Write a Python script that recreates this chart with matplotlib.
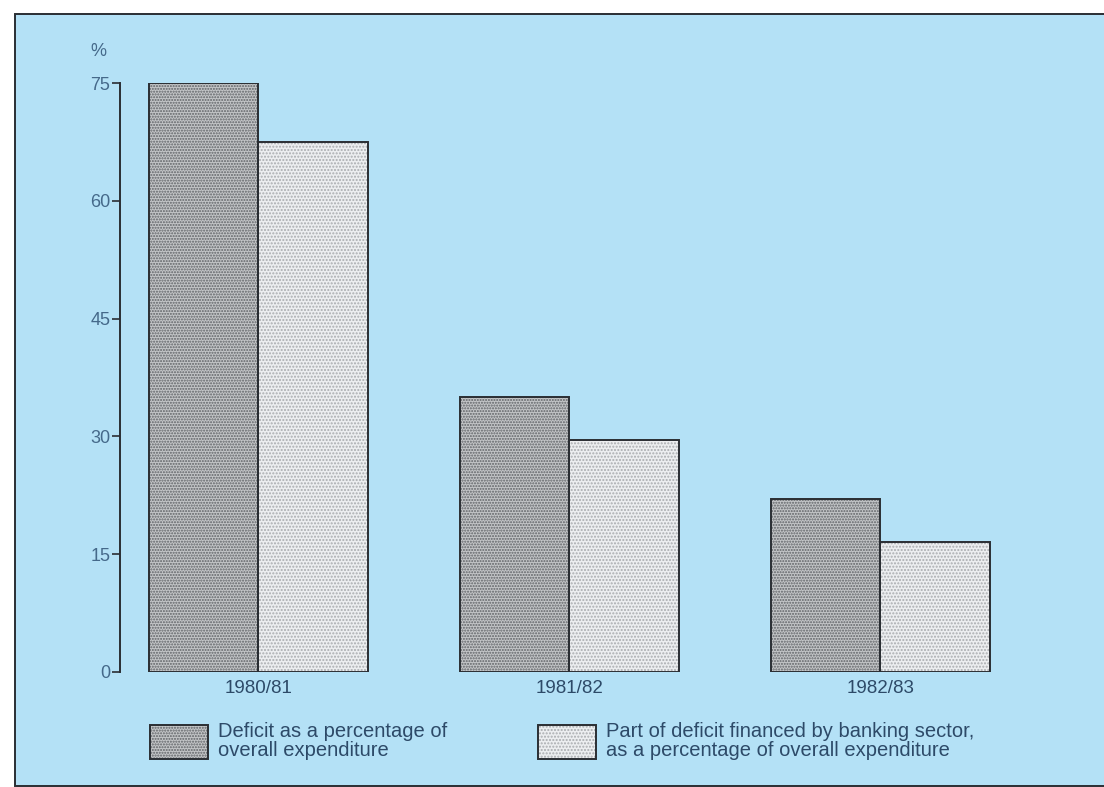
import numpy as np
import matplotlib.pyplot as plt
from matplotlib.patches import Patch, Rectangle

# Budget deficit figures, per cent of overall expenditure
years = ['1980/81', '1981/82', '1982/83']
deficit = [75, 35, 22]
bank_financed = [67.5, 29.5, 16.5]
legend_labels = ['Deficit as a percentage of\noverall expenditure',
                 'Part of deficit financed by banking sector,\nas a percentage of overall expenditure']

bg = '#b4e1f6'
ink = '#2d4a68'
tick_ink = '#45698a'
edge = '#2a2e33'

plt.rcParams['font.family'] = ['Liberation Sans', 'DejaVu Sans']
plt.rcParams['hatch.linewidth'] = 1.0

fig = plt.figure(figsize=(11.04, 7.87), dpi=100)
fig.patch.set_facecolor('white')

# blue panel with dark frame
frame = Rectangle((15 / 1104, 1.5 / 787), 1.0, (787 - 15.5) / 787,
                  transform=fig.transFigure, facecolor=bg, edgecolor=edge,
                  linewidth=1.4, zorder=-5)
fig.patches.append(frame)

ax = fig.add_axes([120 / 1104, 1 - 672 / 787, 947 / 1104, 589 / 787])
ax.patch.set_alpha(0)

x = np.arange(len(years))
w = 0.352

styles = [
    dict(face='#c3c5c7', dots='#5f6266', hatch='......'),
    dict(face='#eceef0', dots='#a9acaf', hatch='.....'),
]

for vals, off, st in zip([deficit, bank_financed], [-w / 2, w / 2], styles):
    ax.bar(x + off, vals, w, color=st['face'], edgecolor=st['dots'],
           hatch=st['hatch'], linewidth=0, zorder=2)
    ax.bar(x + off, vals, w, fill=False, edgecolor=edge, linewidth=1.4, zorder=3)

ax.set_xlim(-0.444, 2.6)
ax.set_ylim(0, 75)
ax.set_yticks([0, 15, 30, 45, 60, 75])
ax.tick_params(axis='y', length=6, width=1.2, color=edge, labelcolor=tick_ink,
               labelsize=13, pad=1)
ax.set_xticks([])
for s in ['top', 'right', 'bottom']:
    ax.spines[s].set_visible(False)
ax.spines['left'].set_color(edge)
ax.spines['left'].set_linewidth(1.4)
ax.spines['left'].set_bounds(0, 75)

for xi, lab in zip(x, years):
    ax.text(xi, -1.0, lab, ha='center', va='top', fontsize=13.5, color=ink)

fig.text(98 / 1104, 1 - 52 / 787, '%', ha='center', va='center',
         fontsize=13, color=tick_ink)

# legend entries, one per series
handles = []
for st in styles:
    h1 = Patch(facecolor=st['face'], edgecolor=st['dots'], hatch=st['hatch'], linewidth=0)
    h2 = Patch(fill=False, edgecolor=edge, linewidth=1.4)
    handles.append((h1, h2))

for h, lab, xpos in zip(handles, legend_labels, [150, 538]):
    leg = fig.legend([h], [lab], loc='upper left',
                     bbox_to_anchor=(xpos / 1104, 1 - 722 / 787),
                     frameon=False, fontsize=14.5, handlelength=2.9,
                     handleheight=2.22, handletextpad=0.5, borderpad=0,
                     borderaxespad=0, labelspacing=0)
    for t in leg.get_texts():
        t.set_color(ink)
        t.set_linespacing(1.0)

fig.savefig('out.png', dpi=100, facecolor='white')
